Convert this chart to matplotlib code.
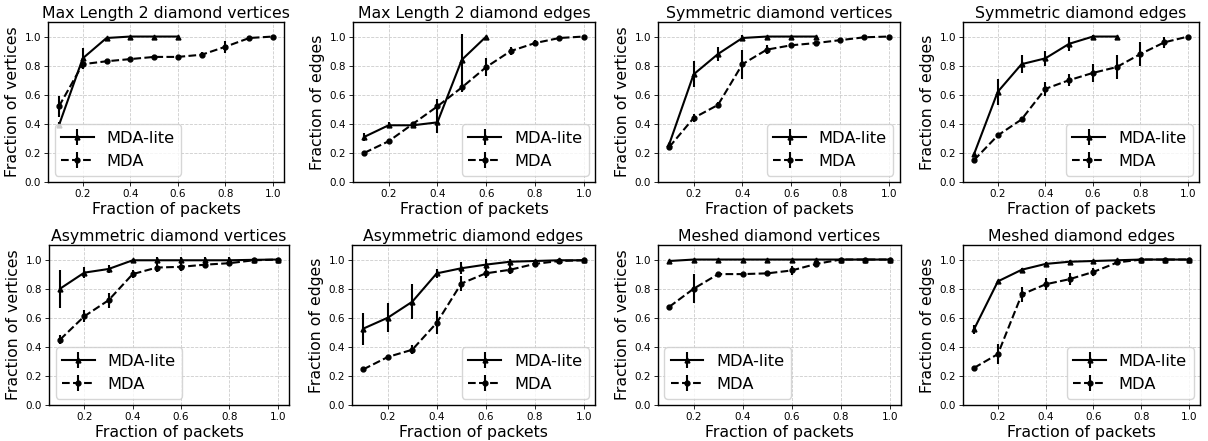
import matplotlib
matplotlib.use('Agg')
import matplotlib.pyplot as plt
import numpy as np

fractions = [0.1, 0.2, 0.3, 0.4, 0.5, 0.6, 0.7, 0.8, 0.9, 1.0]

titles = ['Max Length 2 diamond vertices', 'Max Length 2 diamond edges',
          'Symmetric diamond vertices', 'Symmetric diamond edges',
          'Asymmetric diamond vertices', 'Asymmetric diamond edges',
          'Meshed diamond vertices', 'Meshed diamond edges']
ylabels = ['Fraction of vertices', 'Fraction of edges'] * 4
legend_locs = ['lower left', 'lower right', 'lower right', 'lower right',
               'lower left', 'lower right', 'lower left', 'lower right']

# MDA-lite means / errors
lite_mean = [
    [0.39, 0.85, 0.99, 1.0, 1.0, 1.0],
    [0.31, 0.39, 0.39, 0.41, 0.84, 1.0],
    [0.26, 0.74, 0.88, 0.99, 1.0, 1.0, 1.0],
    [0.19, 0.62, 0.81, 0.85, 0.95, 1.0, 1.0],
    [0.80, 0.91, 0.935, 0.995, 0.995, 0.995, 0.995, 0.995, 0.998, 1.0],
    [0.525, 0.60, 0.71, 0.905, 0.94, 0.965, 0.985, 0.99, 0.995, 0.995],
    [0.99, 1.0, 1.0, 1.0, 1.0, 1.0, 1.0, 1.0, 1.0, 1.0],
    [0.52, 0.85, 0.93, 0.97, 0.985, 0.99, 0.995, 1.0, 1.0, 1.0],
]
lite_err = [
    [0.02, 0.07, 0.01, 0.0, 0.0, 0.0],
    [0.03, 0.02, 0.02, 0.07, 0.18, 0.0],
    [0.01, 0.09, 0.05, 0.02, 0.0, 0.0, 0.0],
    [0.01, 0.09, 0.06, 0.05, 0.05, 0.01, 0.0],
    [0.13, 0.04, 0.03, 0.01, 0.02, 0.02, 0.02, 0.02, 0.01, 0.01],
    [0.11, 0.10, 0.12, 0.03, 0.04, 0.04, 0.02, 0.01, 0.01, 0.01],
    [0.005, 0.0, 0.0, 0.0, 0.0, 0.0, 0.0, 0.0, 0.0, 0.0],
    [0.03, 0.01, 0.01, 0.01, 0.01, 0.005, 0.005, 0.0, 0.0, 0.0],
]

# MDA means / errors
mda_mean = [
    [0.52, 0.81, 0.83, 0.845, 0.86, 0.86, 0.875, 0.93, 0.99, 1.0],
    [0.20, 0.28, 0.40, 0.52, 0.65, 0.79, 0.90, 0.955, 0.99, 1.0],
    [0.24, 0.44, 0.53, 0.81, 0.91, 0.94, 0.955, 0.975, 0.995, 1.0],
    [0.15, 0.32, 0.43, 0.64, 0.70, 0.75, 0.79, 0.88, 0.96, 1.0],
    [0.45, 0.61, 0.72, 0.90, 0.945, 0.95, 0.965, 0.975, 0.995, 1.0],
    [0.245, 0.33, 0.38, 0.565, 0.835, 0.905, 0.93, 0.97, 0.99, 0.995],
    [0.675, 0.80, 0.90, 0.90, 0.905, 0.925, 0.97, 1.0, 1.0, 1.0],
    [0.255, 0.35, 0.76, 0.83, 0.865, 0.915, 0.98, 1.0, 1.0, 1.0],
]
mda_err = [
    [0.07, 0.02, 0.01, 0.01, 0.01, 0.01, 0.02, 0.04, 0.01, 0.0],
    [0.01, 0.01, 0.01, 0.05, 0.03, 0.06, 0.03, 0.02, 0.01, 0.0],
    [0.01, 0.03, 0.02, 0.10, 0.03, 0.01, 0.01, 0.01, 0.005, 0.0],
    [0.01, 0.01, 0.02, 0.05, 0.04, 0.06, 0.08, 0.08, 0.04, 0.0],
    [0.03, 0.04, 0.05, 0.03, 0.03, 0.03, 0.02, 0.02, 0.01, 0.01],
    [0.01, 0.01, 0.03, 0.08, 0.05, 0.03, 0.03, 0.02, 0.01, 0.01],
    [0.01, 0.10, 0.01, 0.01, 0.01, 0.03, 0.02, 0.01, 0.0, 0.0],
    [0.01, 0.07, 0.05, 0.04, 0.04, 0.03, 0.01, 0.0, 0.0, 0.0],
]

W, H = 1208, 441
fig = plt.figure(figsize=(W / 100, H / 100), dpi=100)

# axes boxes in pixels: (left, right), per row (top, bottom)
cols = [[(48, 284), (353, 595), (658, 900), (963, 1199)],
        [(49, 289), (352, 595), (658, 901), (963, 1200)]]
rows = [(22, 182), (245, 405)]

axes = []
for r in range(2):
    top, bot = rows[r]
    for (l, rt) in cols[r]:
        axes.append(fig.add_axes([l / W, 1 - bot / H, (rt - l) / W, (bot - top) / H]))

for i, ax in enumerate(axes):
    xl = fractions[:len(lite_mean[i])]
    ax.errorbar(xl, lite_mean[i], yerr=lite_err[i], color='k', linestyle='-',
                marker='^', markersize=3.5, linewidth=1.5, elinewidth=1.5,
                label='MDA-lite')
    ax.errorbar(fractions, mda_mean[i], yerr=mda_err[i], color='k', linestyle='--',
                marker='o', markersize=3.5, linewidth=1.5, elinewidth=1.5,
                label='MDA')
    ax.set_ylim(0, 1.1)
    ax.set_xlim(0.054, 1.046)
    ax.set_xticks([0.2, 0.4, 0.6, 0.8, 1.0])
    ax.set_yticks([0.0, 0.2, 0.4, 0.6, 0.8, 1.0])
    ax.tick_params(labelsize=7.5, length=2.6, pad=2.4, width=0.6)
    for s in ax.spines.values():
        s.set_linewidth(1.0)
    ax.grid(True, linestyle='--', color='#cccccc', linewidth=0.6)
    ax.set_title(titles[i], fontsize=11.3, pad=3)
    ax.set_xlabel('Fraction of packets', fontsize=11.3, labelpad=2)
    ax.set_ylabel(ylabels[i], fontsize=11.3, labelpad=3)
    ax.legend(loc=legend_locs[i], fontsize=11.7, borderaxespad=0.4)

fig.savefig('out.png', dpi=100)
